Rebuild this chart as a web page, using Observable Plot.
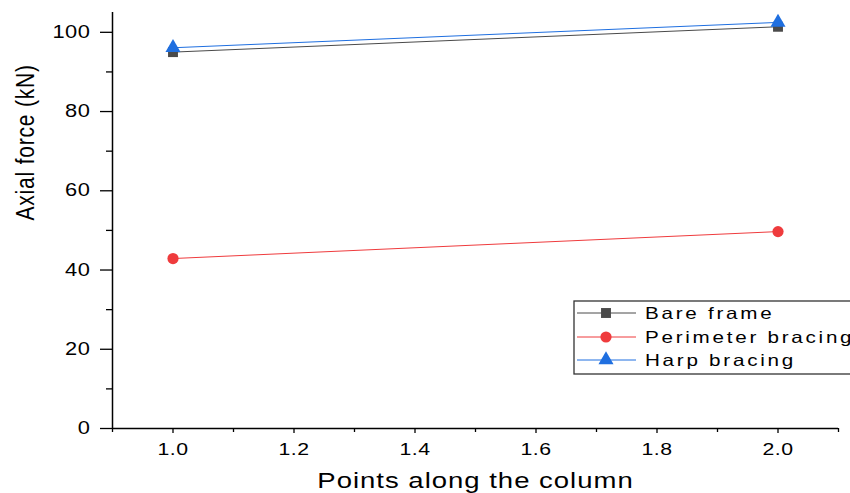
<!DOCTYPE html>
<html>
<head>
<meta charset="utf-8">
<script src="https://cdn.jsdelivr.net/npm/d3@7"></script>
<script src="https://cdn.jsdelivr.net/npm/@observablehq/plot@0.6"></script>
<style>
  html, body { margin: 0; padding: 0; background: #fff; overflow: hidden; }
  #chart { width: 850px; height: 493px; overflow: hidden; position: relative; }
</style>
</head>
<body>
<div id="chart"></div>
<script>
// ---- data ----
const seriesNames = ["Bare frame", "Perimeter bracing", "Harp bracing"];
const points = [1.0, 2.0];
const bareFrame = [95.0, 101.4];
const perimeterBracing = [42.9, 49.7];
const harpBracing = [96.1, 102.5];
const seriesColors = ["#4a4a4a", "#ef3b3d", "#1f6fe0"];
const seriesSymbols = ["square", "circle", "triangle"];
const xMajorTicks = [1.0, 1.2, 1.4, 1.6, 1.8, 2.0];
const xMinorTicks = [0.9, 1.1, 1.3, 1.5, 1.7, 1.9, 2.1];
const yMajorTicks = [0, 20, 40, 60, 80, 100];
const yMinorTicks = [10, 30, 50, 70, 90];
const xDomain = [0.9, 2.1];
const yDomain = [0, 105];
const xTitle = "Points along the column";
const yTitle = "Axial force (kN)";

const seriesValues = [bareFrame, perimeterBracing, harpBracing];
const rows = [];
seriesNames.forEach((name, i) => {
  points.forEach((p, j) => rows.push({series: name, x: p, y: seriesValues[i][j]}));
});

const R = 5.6;
const plot = Plot.plot({
  width: 850,
  height: 493,
  marginLeft: 112,
  marginRight: 12,
  marginTop: 12,
  marginBottom: 65,
  style: {fontFamily: "'Liberation Sans', Arial, sans-serif", color: "#000", background: "#fff", overflow: "visible"},
  x: {domain: xDomain},
  y: {domain: yDomain},
  color: {domain: seriesNames, range: seriesColors},
  symbol: {domain: seriesNames, range: seriesSymbols},
  marks: [
    Plot.ruleX([xDomain[0]], {stroke: "#000", strokeWidth: 1.5}),
    Plot.ruleY([yDomain[0]], {stroke: "#000", strokeWidth: 1.5}),
    Plot.axisY(yMajorTicks, {tickSize: 12, tickPadding: 10, fontSize: 17.5, strokeWidth: 1.3, label: null}),
    Plot.axisY(yMinorTicks, {tickSize: 6, tickFormat: () => "", strokeWidth: 1.3, label: null}),
    Plot.axisX(xMajorTicks, {tickSize: 5, tickPadding: 9, fontSize: 17, strokeWidth: 1.3, tickFormat: d3.format(".1f"), label: null}),
    Plot.axisX(xMinorTicks, {tickSize: 4, tickFormat: () => "", strokeWidth: 1.3, label: null}),
    Plot.line(rows, {x: "x", y: "y", z: "series", stroke: "series", strokeWidth: 1}),
    Plot.dot(rows, {x: "x", y: "y", fill: "series", symbol: "series", r: R, stroke: "none"}),
    Plot.text([yTitle], {frameAnchor: "left", dx: -87, rotate: -90, fontSize: 21, fill: "#000", lineAnchor: "middle"}),
    Plot.text([xTitle], {frameAnchor: "bottom", dy: 52, fontSize: 22, fill: "#000", lineAnchor: "middle"})
  ]
});

document.getElementById("chart").appendChild(plot);
const svg = d3.select(plot);

// ---- legend ----
const lg = svg.append("g").attr("class", "legend").attr("text-anchor", "start");
lg.append("rect").attr("x", 574).attr("y", 301).attr("width", 420).attr("height", 73)
  .attr("fill", "#fff").attr("stroke", "#333").attr("stroke-width", 1.3);
const rowY = [313, 337, 360];
const symMap = {square: d3.symbolSquare, circle: d3.symbolCircle, triangle: d3.symbolTriangle};
seriesNames.forEach((name, i) => {
  lg.append("line").attr("x1", 577).attr("x2", 636).attr("y1", rowY[i]).attr("y2", rowY[i])
    .attr("stroke", seriesColors[i]).attr("stroke-width", 1);
  lg.append("path").attr("transform", `translate(606,${rowY[i]})`)
    .attr("d", d3.symbol(symMap[seriesSymbols[i]], R * R * Math.PI)())
    .attr("fill", seriesColors[i]);
  lg.append("text").attr("x", 645).attr("y", rowY[i]).attr("dy", "0.36em")
    .attr("text-anchor", "start")
    .attr("font-size", 16.5).attr("fill", "#000").attr("class", "legend-text")
    .style("letter-spacing", "2.2px")
    .text(name);
});

// ---- horizontal stretch of text to match the reference rendering ----
const S = 1.25;
const svgNode = plot;
svg.selectAll("text").each(function () {
  const el = this;
  if (!el.textContent) return;
  const bb = el.getBBox();
  const M = el.getCTM();
  const P = el.parentNode.getCTM();
  const anchor = getComputedStyle(el).textAnchor;
  const bx = anchor === "end" ? bb.x + bb.width : anchor === "middle" ? bb.x + bb.width / 2 : bb.x;
  const by = bb.y + bb.height / 2;
  let cx = M.a * bx + M.c * by + M.e;
  // rotated text: scale about its centre
  if (Math.abs(M.b) > 0.5) cx = M.a * (bb.x + bb.width / 2) + M.c * by + M.e;
  const Sm = svgNode.createSVGMatrix().translate(cx, 0).scaleNonUniform(S, 1).translate(-cx, 0);
  const local = P.inverse().multiply(Sm).multiply(M);
  el.transform.baseVal.initialize(el.transform.baseVal.createSVGTransformFromMatrix(local));
});
// small letter spacing on axis texts
svg.selectAll('g[aria-label="x-axis tick label"] text, g[aria-label="y-axis tick label"] text').style("letter-spacing", "0.4px");
svg.selectAll('g[aria-label="text"] text').style("letter-spacing", "0.8px");
</script>
</body>
</html>
